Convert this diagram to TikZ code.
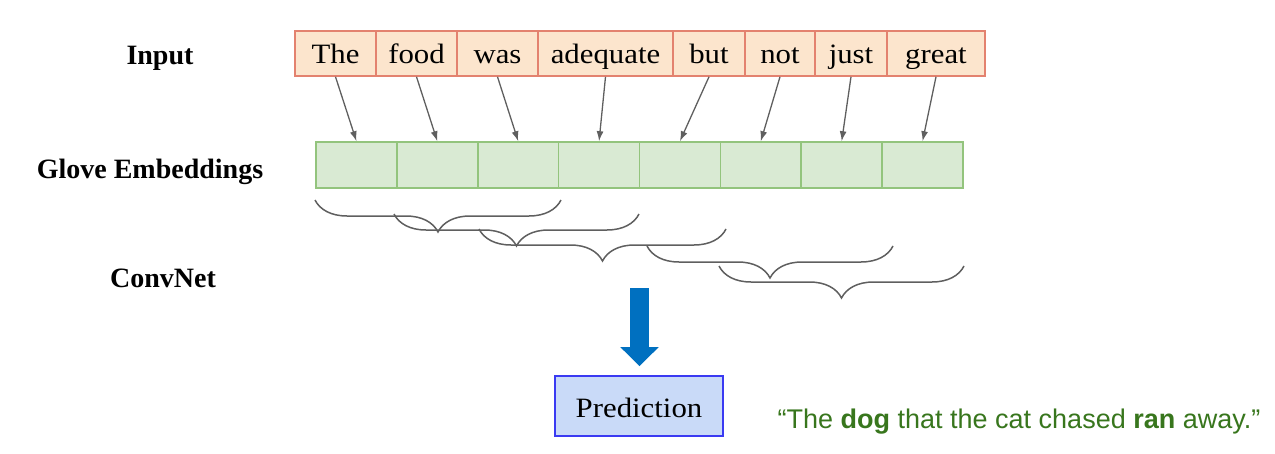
\documentclass[tikz,border=0pt]{standalone}
\usepackage{fontspec}
\setmainfont{Liberation Serif}
\newfontfamily\camfont[FakeStretch=1.1]{Liberation Serif}
\newfontfamily\quotefont{Liberation Sans}
\usetikzlibrary{arrows.meta,decorations.pathreplacing}
\definecolor{infill}{HTML}{FCE5CD}
\definecolor{indraw}{HTML}{E3826F}
\definecolor{emfill}{HTML}{D9EAD3}
\definecolor{emdraw}{HTML}{93C47D}
\definecolor{predfill}{HTML}{C9DAF8}
\definecolor{preddraw}{HTML}{3A3AF2}
\definecolor{bigarrow}{HTML}{0070C0}
\definecolor{quotegreen}{HTML}{38761D}
\definecolor{linegray}{HTML}{5F5F5F}
\tikzset{
  wordbox/.style={draw=indraw, fill=infill, line width=1.6pt, minimum height=45pt, inner sep=0pt,
    text height=19pt, text depth=0pt, font=\camfont\fontsize{28}{32}\selectfont},
  embcell/.style={draw=emdraw, fill=emfill, line width=1.6pt, minimum height=46pt, minimum width=80.875pt, inner sep=0pt},
  rowlabel/.style={font=\bfseries\fontsize{28}{32}\selectfont, inner sep=0pt, anchor=base},
  feed/.style={draw=linegray, line width=1.3pt, -{Latex[length=10pt,width=7pt]}},
  convbrace/.style={draw=linegray, line width=1.5pt, decorate, decoration={brace, amplitude=32pt}},
  predbox/.style={draw=preddraw, fill=predfill, line width=1.6pt, minimum width=168pt, minimum height=60pt, inner sep=0pt,
    text height=22.6pt, text depth=0pt, font=\camfont\fontsize{28}{32}\selectfont},
  bluearrow/.style={draw=bigarrow, line width=19pt, -{Triangle[width=37pt,length=19pt]}, shorten >=9pt},
  quotetext/.style={text=quotegreen, font=\quotefont\fontsize{27}{30}\selectfont, inner sep=0pt, anchor=base}
}
\begin{document}
\begin{tikzpicture}[x=1pt,y=-1pt]
\useasboundingbox (0,0) rectangle (1275,453);
% row labels
\node[rowlabel] (linput) at (160,64) {Input};
\node[rowlabel] (lglove) at (150,178) {Glove Embeddings};
\node[rowlabel] (lconv) at (163,287) {ConvNet};
% input words
\node[wordbox, minimum width=81pt] (w1) at (335.5,53.5) {The};
\node[wordbox, minimum width=81pt] (w2) at (416.5,53.5) {food};
\node[wordbox, minimum width=81pt] (w3) at (497.5,53.5) {was};
\node[wordbox, minimum width=135pt] (w4) at (605.5,53.5) {adequate};
\node[wordbox, minimum width=72pt] (w5) at (709,53.5) {but};
\node[wordbox, minimum width=70pt] (w6) at (780,53.5) {not};
\node[wordbox, minimum width=72pt] (w7) at (851,53.5) {just};
\node[wordbox, minimum width=98pt] (w8) at (936,53.5) {great};
% embeddings
\foreach \i in {1,...,8} {
  \node[embcell] (e\i) at ({316+80.875*(\i-0.5)},165) {};
}
% arrows
\foreach \i in {1,...,8} {
  \draw[feed] (w\i.south) -- (e\i.north);
}
% braces (drawn right to left so they open upward)
\coordinate (b1l) at (315,200); \coordinate (b1r) at (561,200);
\coordinate (b2l) at (394,214); \coordinate (b2r) at (639,214);
\coordinate (b3l) at (479,229); \coordinate (b3r) at (726,229);
\coordinate (b4l) at (647,246); \coordinate (b4r) at (893,246);
\coordinate (b5l) at (719,266); \coordinate (b5r) at (964,266);
\foreach \i in {1,...,5} {
  \draw[convbrace] (b\i r) -- (b\i l);
}
% prediction
\node[predbox] (pred) at (639,406) {Prediction};
\coordinate (arrtop) at (639.5,288);
\draw[bluearrow] (arrtop) -- (arrtop |- pred.north);
% quote
\node[quotetext] (quote) at (1019,428) {“The \textbf{dog} that the cat chased \textbf{ran} away.”};
\end{tikzpicture}
\end{document}
